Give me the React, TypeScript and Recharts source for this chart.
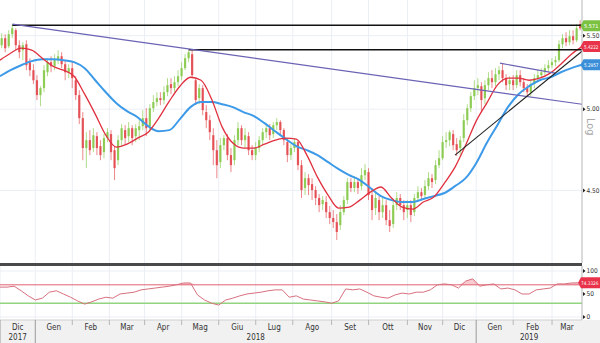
import React from 'react';
import {
  ComposedChart,
  Bar,
  Line,
  Area,
  XAxis,
  YAxis,
  CartesianGrid,
  ReferenceLine,
} from 'recharts';

// daily candles, one every 2 trading days (t = 2i + 1)
const opens = [
  5.432, 5.482, 5.425, 5.51, 5.539, 5.432, 5.397, 5.439, 5.314, 5.259,
  5.191, 5.092, 5.138, 5.245, 5.314, 5.286, 5.328, 5.355, 5.3, 5.245,
  5.273, 5.191, 5.092, 4.942, 4.754, 4.803, 4.754, 4.828, 4.766, 4.729,
  4.816, 4.841, 4.741, 4.68, 4.803, 4.866, 4.828, 4.878, 4.828, 4.866,
  4.891, 4.942, 4.891, 5.006, 5.046, 5.072, 5.059, 5.111, 5.165, 5.138,
  5.178, 5.218, 5.273, 5.341, 5.369, 5.191, 5.072, 5.138, 4.981, 4.929,
  4.834, 4.741, 4.668, 4.772, 4.816, 4.711, 4.68, 4.803, 4.878, 4.803,
  4.828, 4.741, 4.711, 4.754, 4.803, 4.853, 4.878, 4.841, 4.897, 4.917,
  4.866, 4.791, 4.711, 4.754, 4.791, 4.65, 4.514, 4.572, 4.537, 4.502,
  4.456, 4.421, 4.433, 4.375, 4.342, 4.319, 4.302, 4.375, 4.444, 4.549,
  4.514, 4.549, 4.525, 4.59, 4.608, 4.473, 4.398, 4.444, 4.375, 4.415,
  4.33, 4.308, 4.415, 4.456, 4.415, 4.387, 4.415, 4.375, 4.456, 4.49,
  4.473, 4.525, 4.572, 4.561, 4.65, 4.692, 4.791, 4.803, 4.841, 4.778,
  4.754, 4.816, 4.929, 5.006, 5.085, 5.138, 5.151, 5.072, 5.158, 5.205,
  5.178, 5.232, 5.259, 5.205, 5.165, 5.191, 5.158, 5.225, 5.178, 5.138,
  5.111, 5.165, 5.205, 5.225, 5.245, 5.273, 5.293, 5.314, 5.328, 5.439,
  5.482, 5.453, 5.496, 5.467, 5.582,
];
const highs = [
  5.517, 5.51, 5.539, 5.582, 5.553, 5.467, 5.453, 5.467, 5.341, 5.3,
  5.225, 5.151, 5.293, 5.341, 5.355, 5.369, 5.397, 5.383, 5.328, 5.3,
  5.314, 5.218, 5.125, 4.981, 4.853, 4.866, 4.878, 4.853, 4.803, 4.841,
  4.878, 4.866, 4.766, 4.834, 4.904, 4.897, 4.917, 4.897, 4.904, 4.929,
  4.994, 5.006, 5.032, 5.092, 5.111, 5.111, 5.151, 5.205, 5.205, 5.218,
  5.259, 5.314, 5.369, 5.397, 5.397, 5.205, 5.165, 5.158, 5.026, 4.961,
  4.878, 4.803, 4.816, 4.834, 4.841, 4.754, 4.834, 4.917, 4.897, 4.878,
  4.853, 4.772, 4.791, 4.828, 4.878, 4.904, 4.904, 4.917, 4.942, 4.929,
  4.878, 4.816, 4.778, 4.816, 4.803, 4.68, 4.608, 4.596, 4.572, 4.525,
  4.479, 4.467, 4.467, 4.41, 4.387, 4.364, 4.415, 4.467, 4.572, 4.572,
  4.584, 4.572, 4.632, 4.656, 4.632, 4.514, 4.49, 4.467, 4.456, 4.444,
  4.387, 4.444, 4.49, 4.479, 4.444, 4.444, 4.444, 4.479, 4.525, 4.514,
  4.561, 4.608, 4.596, 4.68, 4.741, 4.828, 4.853, 4.866, 4.866, 4.816,
  4.828, 4.968, 5.032, 5.111, 5.191, 5.205, 5.178, 5.191, 5.245, 5.259,
  5.273, 5.286, 5.307, 5.232, 5.218, 5.225, 5.259, 5.259, 5.205, 5.165,
  5.191, 5.232, 5.259, 5.273, 5.3, 5.328, 5.341, 5.355, 5.467, 5.51,
  5.524, 5.539, 5.539, 5.582, 5.611,
];
const lows = [
  5.411, 5.383, 5.411, 5.482, 5.397, 5.341, 5.328, 5.259, 5.218, 5.165,
  5.059, 5.019, 5.111, 5.218, 5.245, 5.259, 5.3, 5.273, 5.191, 5.205,
  5.138, 5.059, 4.904, 4.68, 4.632, 4.711, 4.729, 4.711, 4.68, 4.692,
  4.791, 4.68, 4.561, 4.65, 4.766, 4.772, 4.791, 4.772, 4.791, 4.803,
  4.866, 4.828, 4.853, 4.981, 5.019, 5.026, 5.032, 5.085, 5.098, 5.111,
  5.151, 5.191, 5.259, 5.314, 5.205, 5.026, 5.032, 4.961, 4.878, 4.803,
  4.65, 4.572, 4.632, 4.741, 4.68, 4.608, 4.65, 4.772, 4.772, 4.754,
  4.711, 4.68, 4.68, 4.729, 4.772, 4.816, 4.803, 4.816, 4.866, 4.834,
  4.772, 4.668, 4.68, 4.729, 4.62, 4.456, 4.473, 4.473, 4.444, 4.415,
  4.375, 4.387, 4.342, 4.308, 4.286, 4.22, 4.275, 4.359, 4.421, 4.49,
  4.49, 4.479, 4.502, 4.561, 4.444, 4.33, 4.359, 4.33, 4.342, 4.302,
  4.264, 4.286, 4.387, 4.387, 4.33, 4.342, 4.319, 4.353, 4.433, 4.444,
  4.456, 4.502, 4.514, 4.537, 4.632, 4.68, 4.754, 4.766, 4.741, 4.705,
  4.711, 4.791, 4.897, 4.981, 5.059, 5.092, 4.981, 5.032, 5.125, 5.138,
  5.151, 5.191, 5.178, 5.125, 5.125, 5.125, 5.138, 5.151, 5.111, 5.085,
  5.085, 5.138, 5.178, 5.205, 5.225, 5.245, 5.273, 5.286, 5.314, 5.411,
  5.425, 5.432, 5.439, 5.453, 5.539,
];
const closes = [
  5.482, 5.411, 5.51, 5.553, 5.432, 5.383, 5.432, 5.293, 5.259, 5.191,
  5.092, 5.138, 5.259, 5.314, 5.286, 5.328, 5.355, 5.3, 5.245, 5.273,
  5.205, 5.092, 4.942, 4.754, 4.803, 4.741, 4.834, 4.754, 4.711, 4.816,
  4.853, 4.729, 4.632, 4.803, 4.878, 4.816, 4.878, 4.816, 4.878, 4.891,
  4.942, 4.878, 5.006, 5.046, 5.072, 5.059, 5.111, 5.158, 5.138, 5.178,
  5.218, 5.273, 5.341, 5.383, 5.225, 5.059, 5.138, 4.994, 4.929, 4.853,
  4.741, 4.65, 4.772, 4.816, 4.711, 4.65, 4.803, 4.878, 4.803, 4.834,
  4.741, 4.711, 4.754, 4.803, 4.853, 4.878, 4.834, 4.897, 4.917, 4.866,
  4.803, 4.711, 4.754, 4.791, 4.65, 4.502, 4.572, 4.531, 4.502, 4.456,
  4.415, 4.444, 4.375, 4.342, 4.319, 4.264, 4.375, 4.444, 4.549, 4.514,
  4.549, 4.514, 4.59, 4.62, 4.473, 4.387, 4.456, 4.375, 4.415, 4.33,
  4.297, 4.415, 4.456, 4.415, 4.375, 4.415, 4.359, 4.456, 4.49, 4.467,
  4.525, 4.572, 4.549, 4.65, 4.692, 4.791, 4.803, 4.853, 4.772, 4.741,
  4.803, 4.929, 5.006, 5.085, 5.138, 5.158, 5.059, 5.158, 5.205, 5.178,
  5.232, 5.259, 5.205, 5.158, 5.191, 5.158, 5.225, 5.178, 5.138, 5.111,
  5.165, 5.205, 5.225, 5.245, 5.273, 5.293, 5.314, 5.328, 5.439, 5.482,
  5.453, 5.496, 5.467, 5.553, 5.553,
];

// moving averages sampled every 6 trading days
const ma20 = [
  5.328, 5.376, 5.411, 5.397, 5.341, 5.286, 5.259, 5.218, 5.098, 4.968,
  4.834, 4.76, 4.778, 4.816, 4.853, 4.942, 5.052, 5.151, 5.211, 5.191,
  5.065, 4.885, 4.785, 4.754, 4.754, 4.778, 4.803, 4.816, 4.81, 4.711,
  4.578, 4.473, 4.398, 4.404, 4.444, 4.49, 4.52, 4.456, 4.404, 4.392,
  4.433, 4.462, 4.543, 4.638, 4.772, 4.923, 5.039, 5.158, 5.205, 5.205,
  5.191, 5.205, 5.239, 5.3, 5.369, 5.422,
];
const ma50 = [
  5.218, 5.259, 5.293, 5.321, 5.334, 5.334, 5.328, 5.314, 5.273, 5.191,
  5.111, 5.039, 4.987, 4.948, 4.891, 4.859, 4.866, 4.936, 5.013, 5.046,
  5.046, 5.032, 5.013, 4.981, 4.955, 4.91, 4.859, 4.81, 4.766, 4.741,
  4.711, 4.668, 4.626, 4.59, 4.561, 4.514, 4.467, 4.444, 4.433, 4.433,
  4.45, 4.467, 4.485, 4.525, 4.572, 4.662, 4.785, 4.897, 5.013, 5.098,
  5.151, 5.191, 5.211, 5.245, 5.273, 5.296,
];

// RSI sampled every 4 trading days
const rsi = [
  65, 65, 67, 57, 46, 37, 41, 54, 57, 50,
  43, 35, 28, 33, 39, 43, 41, 50, 52, 54,
  59, 61, 63, 65, 67, 70, 74, 74, 48, 37,
  30, 26, 37, 41, 46, 50, 52, 54, 57, 59,
  59, 43, 46, 39, 37, 35, 33, 30, 35, 61,
  59, 61, 54, 46, 43, 41, 48, 52, 50, 54,
  54, 59, 70, 72, 70, 63, 78, 83, 67, 70,
  72, 61, 63, 59, 50, 50, 59, 61, 63, 72,
  72, 74, 74.3,
];
const RSI_HIGH = 70;
const RSI_LOW = 30;

const monthStarts = [0, 20, 41, 62, 82, 103, 124, 145, 166, 188, 209, 231, 251, 270, 291, 313];
const monthLabels = ['Dic', 'Gen', 'Feb', 'Mar', 'Apr', 'Mag', 'Giu', 'Lug', 'Ago', 'Set', 'Ott', 'Nov', 'Dic', 'Gen', 'Feb', 'Mar'];
const yearStarts = [0, 20, 270];
const yearLabels = ['2017', '2018', '2019'];
const lastT = 330;

const priceTicks = [5.5, 5.0, 4.5];
const priceTags = [
  { value: 5.571, label: '5.571', color: '#7cc242' },
  { value: 5.4222, label: '5.4222', color: '#e8334a' },
  { value: 5.2957, label: '5.2957', color: '#3b8fd9' },
];
const rsiTicks = [100, 50, 0];
const rsiTag = { value: 74.3326, label: '74.3326', color: '#e8334a' };

const trendLines = [
  { x1: 7, y1: 5.575, x2: 330, y2: 5.575, color: '#111111', w: 1.5 },
  { x1: 107, y1: 5.4, x2: 330, y2: 5.4, color: '#111111', w: 1.5 },
  { x1: 7, y1: 5.582, x2: 330, y2: 5.032, color: '#6a62b4', w: 1.2 },
  { x1: 283.5, y1: 5.307, x2: 314.7, y2: 5.239, color: '#6a62b4', w: 1.2 },
  { x1: 258, y1: 4.711, x2: 330, y2: 5.39, color: '#222222', w: 1.1 },
];

const UP = '#86c94a';
const DOWN = '#e2474c';
const FONT = "'Liberation Sans Narrow', 'DejaVu Sans Condensed', Arial, sans-serif";

const candleData = opens.map((open, i) => ({
  t: 2 * i + 1,
  open,
  high: highs[i],
  low: lows[i],
  close: closes[i],
  range: [lows[i], highs[i]],
}));
const maData = ma20.map((v, i) => ({ t: i * 6, ma20: v, ma50: ma50[i] }));
const rsiData = rsi.map((v, i) => ({ t: i * 4, rsi: v, over: [RSI_HIGH, Math.max(RSI_HIGH, v)] }));

const monthMids = monthStarts.map((s, i) => (s + (monthStarts[i + 1] ?? lastT)) / 2);
const yearMids = yearStarts.map((s, i) => (s + (yearStarts[i + 1] ?? lastT)) / 2);
const timeTicks = Array.from(new Set([...monthStarts, ...monthMids, ...yearMids])).sort((a, b) => a - b);

function Candle(props: any) {
  const { x, y, width, height, payload } = props;
  if (x == null || !payload) return null;
  const top = Math.min(y, y + height);
  const h = Math.abs(height);
  const { open, close, high, low } = payload;
  const span = Math.log(high) - Math.log(low) || 1;
  const py = (v: number) => top + (h * (Math.log(high) - Math.log(v))) / span;
  const cx = x + width / 2;
  const color = close >= open ? UP : DOWN;
  const bTop = py(Math.max(open, close));
  const bH = Math.max(1, py(Math.min(open, close)) - bTop);
  return (
    <g>
      <line x1={cx} x2={cx} y1={top} y2={top + h} stroke={color} strokeOpacity={0.65} strokeWidth={1} />
      <rect x={cx - 1.1} y={bTop} width={2.2} height={bH} fill={color} fillOpacity={0.9} />
    </g>
  );
}

function Tag({ x, y, label, color }: any) {
  const long = label.length > 6;
  const left = long ? x - 4 : x - 1.5;
  const tx = long ? x - 1 : x + 2;
  return (
    <g>
      <path d={`M${left},${y} L${left + 3},${y - 5.5} L${x + 18},${y - 5.5} L${x + 18},${y + 5.5} L${left + 3},${y + 5.5} Z`} fill={color} />
      <text
        x={tx}
        y={y}
        dy={2}
        fontSize={long ? 4.8 : 5.2}
        fill="#fff"
        fontFamily={FONT}
        textLength={long ? 17.5 : 14.5}
        lengthAdjust="spacingAndGlyphs"
      >
        {label}
      </text>
    </g>
  );
}

function Marker({ x, y, text }: any) {
  return (
    <g>
      <path d={`M${x + 1},${y - 2} L${x + 3.5},${y} L${x + 1},${y + 2} Z`} fill="#222" />
      <text x={x + 4.5} y={y} dy={2.3} fontSize={6.5} fill="#333" fontFamily={FONT}>
        {text}
      </text>
    </g>
  );
}

function PriceTick({ x, y, payload }: any) {
  const tag = priceTags.find((p) => p.value === payload.value);
  if (tag) return <Tag x={x} y={y} label={tag.label} color={tag.color} />;
  return <Marker x={x} y={y} text={Number(payload.value).toFixed(2)} />;
}

function RsiTick({ x, y, payload }: any) {
  if (payload.value === rsiTag.value) return <Tag x={x} y={y} label={rsiTag.label} color={rsiTag.color} />;
  return <Marker x={x} y={y} text={String(payload.value)} />;
}

function TimeTick({ x, y, payload }: any) {
  const v = payload.value;
  const parts: React.ReactNode[] = [];
  if (yearStarts.includes(v)) {
    parts.push(<line key="ys" x1={x} x2={x} y1={y} y2={y + 23} stroke="#9a9a9a" strokeWidth={1} />);
  } else if (monthStarts.includes(v)) {
    parts.push(<line key="ms" x1={x} x2={x} y1={y} y2={y + 5} stroke="#b8b8b8" strokeWidth={1} />);
  }
  const mi = monthMids.indexOf(v);
  if (mi >= 0) {
    parts.push(
      <text key="m" x={x} y={y + 10} textAnchor="middle" fontSize={8} fill="#333" fontFamily={FONT}>
        {monthLabels[mi]}
      </text>
    );
  }
  const yi = yearMids.indexOf(v);
  if (yi >= 0) {
    parts.push(
      <text key="y" x={x} y={y + 20} textAnchor="middle" fontSize={8} fill="#333" fontFamily={FONT}>
        {yearLabels[yi]}
      </text>
    );
  }
  return <g>{parts}</g>;
}

export default function App() {
  return (
    <div style={{ position: 'relative', width: 600, height: 343, background: '#fff', fontFamily: FONT }}>
      <style>{'body{margin:0}'}</style>
      <div style={{ position: 'absolute', left: 0, top: 0 }}>
        <ComposedChart width={600} height={263} data={candleData} margin={{ top: 0, right: 0, bottom: 0, left: 0 }}>
          <CartesianGrid stroke="#eaeff5" horizontalValues={priceTicks} verticalValues={monthStarts} />
          <XAxis dataKey="t" type="number" domain={[0, lastT]} hide allowDataOverflow />
          <YAxis
            orientation="right"
            scale="log"
            domain={[4.096, 5.76]}
            allowDataOverflow
            ticks={[...priceTags.map((p) => p.value), ...priceTicks]}
            interval={0}
            width={18}
            tickSize={0}
            tickMargin={0}
            axisLine={{ stroke: '#b5b5b5' }}
            tick={(p: any) => <PriceTick {...p} />}
          />
          <Bar dataKey="range" barSize={3} shape={(p: any) => <Candle {...p} />} isAnimationActive={false} />
          <Line data={maData} dataKey="ma50" type="monotone" stroke="#3d9ae8" strokeWidth={2} dot={false} isAnimationActive={false} />
          <Line data={maData} dataKey="ma20" type="monotone" stroke="#e0303f" strokeWidth={1.3} dot={false} isAnimationActive={false} />
          {trendLines.map((l, i) => (
            <ReferenceLine
              key={i}
              segment={[
                { x: l.x1, y: l.y1 },
                { x: l.x2, y: l.y2 },
              ]}
              stroke={l.color}
              strokeWidth={l.w}
              ifOverflow="visible"
            />
          ))}
        </ComposedChart>
      </div>
      <div style={{ position: 'absolute', left: 0, top: 263, width: 582, height: 3, background: '#4a4a4a' }} />
      <div style={{ position: 'absolute', left: 0, top: 320, width: 600, height: 23, background: '#f1f1f1' }} />
      <div style={{ position: 'absolute', left: 0, top: 266 }}>
        <ComposedChart width={600} height={77} data={rsiData} margin={{ top: 0, right: 0, bottom: 0, left: 0 }}>
          <CartesianGrid stroke="#eaeff5" horizontalValues={[100, 0]} verticalValues={monthStarts} />
          <XAxis
            dataKey="t"
            type="number"
            domain={[0, lastT]}
            allowDataOverflow
            ticks={timeTicks}
            interval={0}
            height={23}
            tickSize={0}
            tickMargin={0}
            axisLine={{ stroke: '#cfcfcf' }}
            tick={(p: any) => <TimeTick {...p} />}
          />
          <YAxis
            orientation="right"
            domain={[-6.5, 110.9]}
            allowDataOverflow
            ticks={[rsiTicks[0], rsiTag.value, rsiTicks[1], rsiTicks[2]]}
            interval={0}
            width={18}
            tickSize={0}
            tickMargin={0}
            axisLine={{ stroke: '#b5b5b5' }}
            tick={(p: any) => <RsiTick {...p} />}
          />
          <Area dataKey="over" type="linear" stroke="none" fill="#f3a9b3" fillOpacity={0.6} isAnimationActive={false} />
          <ReferenceLine y={RSI_HIGH} stroke="#e06070" strokeWidth={1} />
          <ReferenceLine y={RSI_LOW} stroke="#92d47f" strokeWidth={1.5} />
          <Line dataKey="rsi" type="linear" stroke="#d8707e" strokeWidth={1} dot={false} isAnimationActive={false} />
        </ComposedChart>
      </div>
      <div
        style={{
          position: 'absolute',
          left: 583,
          top: 118,
          fontSize: 11,
          color: '#a8a8a8',
          transform: 'rotate(90deg)',
          transformOrigin: 'left top',
          marginLeft: 14,
        }}
      >
        Log
      </div>
    </div>
  );
}
